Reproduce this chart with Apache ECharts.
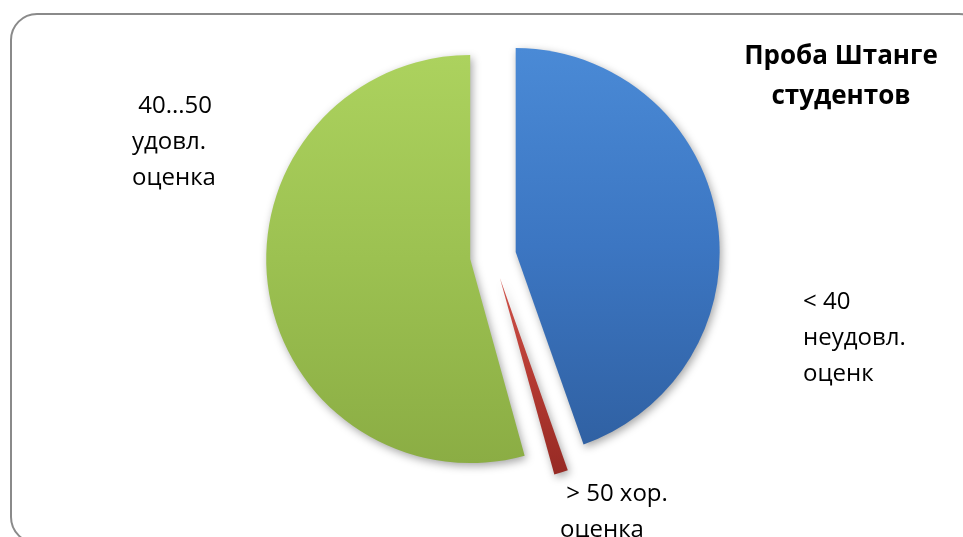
<!DOCTYPE html>
<html>
<head>
<meta charset="utf-8">
<script src="https://cdn.jsdelivr.net/npm/echarts@6/dist/echarts.min.js"></script>
<style>html,body{margin:0;padding:0;background:#fff}#c{width:963px;height:537px}</style>
</head>
<body>
<div id="c"></div>
<script>
const categories = ['< 40\nнеудовл.\nоценк', ' > 50 хор.\nоценка', ' 40...50\nудовл.\nоценка'];
const values = [44.6, 1.1, 54.3];
const titleText = 'Проба Штанге\nстудентов';

const colors = [
  ['#4a8ad6', '#3c76c2', '#3061a3'],
  ['#d0524a', '#b53a32', '#962a24'],
  ['#acd25e', '#9cc151', '#8bad44']
];
const labelPos = [
  {x: 803, y: 284},
  {x: 560, y: 476},
  {x: 132, y: 88}
];

const labelFont = {fontFamily: 'Open Sans', fontSize: 24, lineHeight: 36};

const chart = echarts.init(document.getElementById('c'));
chart.setOption({
  animation: false,
  title: {
    text: titleText,
    left: 836, top: 32, textAlign: 'center',
    textStyle: {fontFamily: 'Open Sans', fontWeight: 'bold', fontSize: 26, lineHeight: 40, color: '#000'}
  },
  graphic: [{
    type: 'rect', silent: true,
    shape: {x: 11, y: 14, width: 974, height: 529, r: 26},
    style: {fill: 'none', stroke: '#8a8a8a', lineWidth: 2}
  }].concat(categories.map((n, i) => ({
    type: 'text', silent: true,
    x: labelPos[i].x, y: labelPos[i].y,
    style: Object.assign({text: n, fill: '#000', align: 'left', verticalAlign: 'top'}, labelFont)
  }))),
  series: [{
    type: 'pie',
    center: [493, 256],
    radius: [0, 204],
    startAngle: 90,
    clockwise: true,
    selectedMode: 'multiple',
    selectedOffset: 23,
    data: categories.map((n, i) => ({
      name: n, value: values[i], selected: true,
      itemStyle: {
        color: {type: 'linear', x: 0, y: 0, x2: 0, y2: 1, colorStops: [
          {offset: 0, color: colors[i][0]}, {offset: 0.5, color: colors[i][1]}, {offset: 1, color: colors[i][2]}
        ]},
        shadowBlur: 8, shadowColor: 'rgba(0,0,0,0.35)', shadowOffsetX: 2, shadowOffsetY: 3
      }
    })),
    label: {show: false},
    labelLine: {show: false},
    emphasis: {disabled: true}
  }]
});
</script>
</body>
</html>
